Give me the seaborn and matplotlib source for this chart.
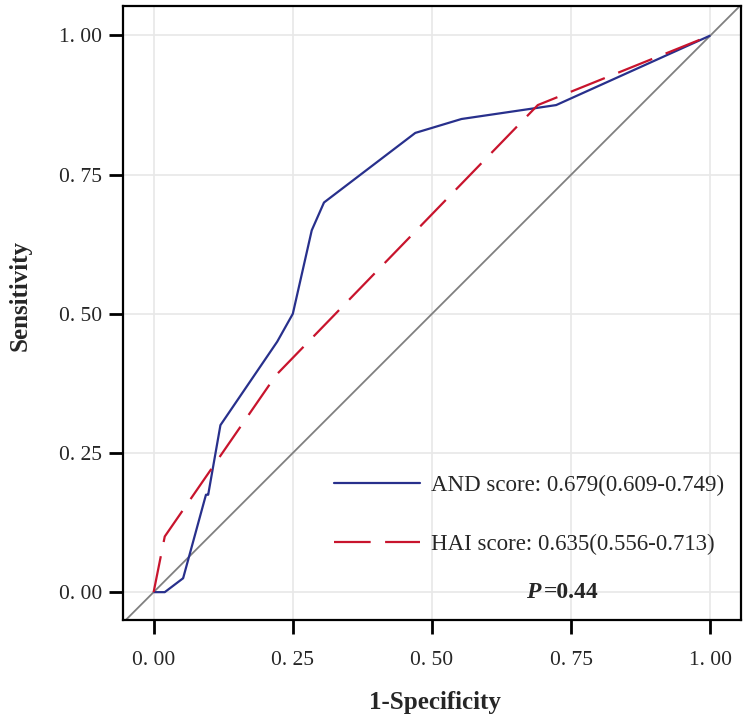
import numpy as np
import pandas as pd
import seaborn as sns
import matplotlib.pyplot as plt
from matplotlib.lines import Line2D

# ROC points
and_fpr = [0.0, 0.02, 0.053, 0.094, 0.098, 0.12, 0.222, 0.25, 0.284, 0.306, 0.47, 0.553, 0.723, 1.0]
and_tpr = [0.0, 0.0, 0.025, 0.175, 0.175, 0.30, 0.45, 0.50, 0.65, 0.70, 0.825, 0.85, 0.875, 1.0]
hai_fpr = [0.0, 0.02, 0.22, 0.69, 1.0]
hai_tpr = [0.0, 0.10, 0.39, 0.875, 1.0]

labels = ["AND score: 0.679(0.609-0.749)", "HAI score: 0.635(0.556-0.713)"]
ticks = [0.0, 0.25, 0.5, 0.75, 1.0]
tick_labels = ["0. 00", "0. 25", "0. 50", "0. 75", "1. 00"]

df = pd.concat([
    pd.DataFrame({"fpr": and_fpr, "tpr": and_tpr, "model": labels[0]}),
    pd.DataFrame({"fpr": hai_fpr, "tpr": hai_tpr, "model": labels[1]}),
])

sns.set_style("whitegrid")
plt.rcParams['font.family'] = ['Liberation Serif', 'DejaVu Serif']

fig = plt.figure(figsize=(7.5, 7.22), dpi=100)
ax = fig.add_axes([0.164, 0.1413, 0.824, 0.8504])

blue = "#28308c"
red = "#c8142d"
dash = (16.5, 6.5)

ax.axline((0, 0), (1, 1), color="#808080", lw=1.3, zorder=1)

sns.lineplot(data=df, x="fpr", y="tpr", hue="model", style="model",
             palette=[blue, red], dashes=[(1, 0), dash],
             estimator=None, sort=False, lw=1.6, ax=ax, legend=False)

ax.set_xlim(-0.055, 1.055)
ax.set_ylim(-0.05, 1.053)
ax.set_xticks(ticks)
ax.set_yticks(ticks)
ax.set_xticklabels(tick_labels, fontsize=15.5)
ax.set_yticklabels(tick_labels, fontsize=15.5)
ax.grid(True, color="#e8e8e8", lw=1.2)
ax.tick_params(direction="out", length=10, width=2, color="black", pad=5, left=True, bottom=True)
ax.tick_params(axis="x", pad=12)
for sp in ax.spines.values():
    sp.set_color("black")
    sp.set_linewidth(1.6)

ax.set_xlabel("1-Specificity", fontsize=18, fontweight="bold", va="center")
ax.set_ylabel("Sensitivity", fontsize=18, fontweight="bold", va="center")
ax.xaxis.set_label_coords(0.505, -0.1336)
ax.yaxis.set_label_coords(-0.1667, 0.528)

handles = [Line2D([], [], color=blue, lw=1.6),
           Line2D([], [], color=red, lw=1.6, dashes=dash)]
ax.legend(handles, labels, loc="center", bbox_to_anchor=(0.657, 0.171), frameon=False,
          fontsize=16.5, handlelength=3.76, labelspacing=1.69, handletextpad=0.48)

ax.text(0.694, 0.0, "P", fontsize=17, fontweight="bold", style="italic", ha="right", va="center")
ax.text(0.701, 0.0, "=0.44", fontsize=17, fontweight="bold", ha="left", va="center")

fig.savefig("out.png", dpi=100)
